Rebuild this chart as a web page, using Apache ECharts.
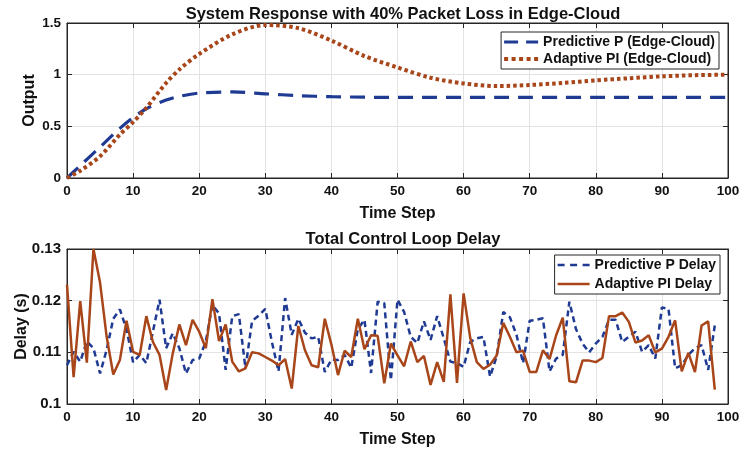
<!DOCTYPE html>
<html>
<head>
<meta charset="utf-8">
<script src="https://cdn.jsdelivr.net/npm/echarts@6/dist/echarts.min.js"></script>
<style>
  html, body { margin: 0; padding: 0; background: #fff; }
  #main { width: 744px; height: 454px; }
</style>
</head>
<body>
<div id="main"></div>
<script>
// response curves
const respSteps = [0, 2, 5, 8, 10, 12, 15, 17, 20, 25, 30, 35, 40, 45, 50, 55, 60, 65, 70, 75, 80, 85, 90, 95, 100];
const predictiveOut = [0, 0.12, 0.3, 0.48, 0.585, 0.67, 0.755, 0.79, 0.822, 0.833, 0.815, 0.797, 0.787, 0.782, 0.78, 0.78, 0.78, 0.78, 0.78, 0.78, 0.78, 0.78, 0.78, 0.78, 0.78];
const adaptiveOut = [0, 0.07, 0.21, 0.42, 0.54, 0.68, 0.92, 1.05, 1.2, 1.39, 1.48, 1.45, 1.33, 1.18, 1.07, 0.97, 0.915, 0.89, 0.9, 0.92, 0.945, 0.965, 0.984, 0.995, 1.0];

// loop delay per time step (0..98), lower plot
const predictiveDelay = [
  0.1075, 0.1101, 0.1082, 0.1121, 0.1108, 0.1059, 0.1105, 0.1165, 0.1183, 0.1145,
  0.1081, 0.1095, 0.1079, 0.114, 0.1202, 0.1108, 0.1137, 0.1108, 0.1059, 0.1085,
  0.1088, 0.1121, 0.1192, 0.1175, 0.1066, 0.117, 0.1174, 0.1069, 0.1161, 0.1171,
  0.1184, 0.112, 0.1063, 0.1205, 0.1134, 0.1165, 0.1138, 0.1127, 0.113, 0.1062,
  0.1086, 0.1085, 0.1095, 0.107, 0.1145, 0.1163, 0.106, 0.1198, 0.1195, 0.1046,
  0.1202, 0.1178, 0.113, 0.1118, 0.116, 0.1124, 0.117, 0.1127, 0.1082, 0.1079,
  0.1072, 0.112, 0.1127, 0.113, 0.1053, 0.1092, 0.1178, 0.1168, 0.1134, 0.1079,
  0.1161, 0.1163, 0.1166, 0.1063, 0.1088, 0.1095, 0.1198, 0.1145, 0.1117, 0.11,
  0.1117, 0.113, 0.1163, 0.1163, 0.112, 0.113, 0.114, 0.1101, 0.1114, 0.1088,
  0.1187, 0.1184, 0.1069, 0.1075, 0.1095, 0.1108, 0.1114, 0.1066, 0.1152
];
const adaptiveDelay = [
  0.1231, 0.1052, 0.1199, 0.108, 0.13, 0.1235, 0.113, 0.1057, 0.1085, 0.1161,
  0.1101, 0.1095, 0.117, 0.112, 0.1095, 0.1027, 0.1098, 0.1154, 0.1114, 0.1163,
  0.114, 0.1108, 0.1203, 0.1122, 0.1154, 0.1082, 0.1063, 0.1069, 0.11, 0.1098,
  0.1091, 0.1084, 0.1075, 0.1087, 0.103, 0.1151, 0.1104, 0.1075, 0.1071, 0.1165,
  0.1115, 0.1056, 0.1103, 0.1091, 0.1165, 0.1106, 0.1133, 0.1132, 0.104, 0.1117,
  0.1094, 0.1073, 0.1121, 0.1081, 0.1093, 0.1037, 0.1081, 0.1043, 0.1212, 0.1041,
  0.1214, 0.1128, 0.1081, 0.1068, 0.1076, 0.1094, 0.1157, 0.113, 0.11, 0.1103,
  0.1062, 0.1062, 0.1104, 0.1087, 0.1133, 0.1167, 0.1044, 0.1042, 0.1084, 0.1084,
  0.1081, 0.1089, 0.117, 0.117, 0.1177, 0.1159, 0.1119, 0.1123, 0.1133, 0.11,
  0.1107, 0.113, 0.1162, 0.1063, 0.1099, 0.1062, 0.1152, 0.116, 0.1028
];

const xTicks = [0, 10, 20, 30, 40, 50, 60, 70, 80, 90, 100];
const outTicks = [0, 0.5, 1, 1.5];
const delayTicks = [0.1, 0.11, 0.12, 0.13];

const blue = '#1f3a93';
const brown = '#a8461a';
const font = 'Liberation Sans, Arial, sans-serif';

// legend samples drawn as little paths so they look like the line styles
const iconDash = 'path://M0,0h14v3h-14zM22,0h12v3h-12z';
const iconDots = 'path://M0,0h4v4h-4zM7.5,0h4v4h-4zM15,0h4v4h-4zM22.5,0h4v4h-4zM30,0h4v4h-4z';
const iconShortDash = 'path://M0,0h7v2.5h-7zM12.5,0h7v2.5h-7zM25,0h7v2.5h-7z';
const iconSolid = 'path://M0,0h32v2.5h-32z';

let chart = echarts.init(document.getElementById('main'), null, {renderer: 'canvas'});

function pairs(xs, ys) {
  return ys.map((v, i) => [xs[i], v]);
}
const delaySteps = predictiveDelay.map((v, i) => i);

function xAxisFor(gridIndex, name, onTop) {
  return {
    type: 'value', gridIndex: gridIndex,
    min: xTicks[0], max: xTicks[xTicks.length - 1], interval: 10,
    position: onTop ? 'top' : 'bottom',
    name: onTop ? '' : name, nameLocation: 'middle', nameGap: 28, nameMoveOverlap: false,
    nameTextStyle: {fontFamily: font, fontWeight: 'bold', fontSize: 16, color: '#111'},
    axisLine: {show: true, onZero: false, lineStyle: {color: '#262626', width: 1}},
    axisTick: {show: true, inside: true, length: 5, lineStyle: {color: '#262626'}},
    axisLabel: {show: !onTop, fontFamily: font, fontWeight: 'bold', fontSize: 13.5, color: '#111', margin: 6},
    splitLine: {show: !onTop, lineStyle: {color: '#e3e3e3', width: 1}}
  };
}
function yAxisFor(gridIndex, name, ticks, interval, onRight, labelSize, gap) {
  return {
    type: 'value', gridIndex: gridIndex,
    min: ticks[0], max: ticks[ticks.length - 1], interval: interval,
    position: onRight ? 'right' : 'left',
    name: onRight ? '' : name, nameLocation: 'middle', nameGap: gap, nameMoveOverlap: false,
    nameTextStyle: {fontFamily: font, fontWeight: 'bold', fontSize: 16, color: '#111'},
    axisLine: {show: true, onZero: false, lineStyle: {color: '#262626', width: 1}},
    axisTick: {show: true, inside: true, length: 5, lineStyle: {color: '#262626'}},
    axisLabel: {show: !onRight, fontFamily: font, fontWeight: 'bold', fontSize: labelSize, color: '#111', margin: 6,
      formatter: v => String(Math.round(v * 1000) / 1000)},
    splitLine: {show: !onRight, lineStyle: {color: '#e3e3e3', width: 1}}
  };
}

let option = {
  backgroundColor: '#fff',
  animation: false,
  title: [
    {text: 'System Response with 40% Packet Loss in Edge-Cloud', left: 398, top: 1, textAlign: 'center',
      textStyle: {fontFamily: font, fontWeight: 'bold', fontSize: 16.5, color: '#111'}},
    {text: 'Total Control Loop Delay', left: 398, top: 226, textAlign: 'center',
      textStyle: {fontFamily: font, fontWeight: 'bold', fontSize: 16.5, color: '#111'}}
  ],
  grid: [
    {left: 67, right: 16, top: 23, height: 155, show: true, borderColor: '#262626', borderWidth: 1,
      containLabel: false, outerBoundsMode: 'none'},
    {left: 67, right: 16, top: 249, height: 155, show: true, borderColor: '#262626', borderWidth: 1,
      containLabel: false, outerBoundsMode: 'none'}
  ],
  xAxis: [
    xAxisFor(0, 'Time Step', false),
    xAxisFor(0, '', true),
    xAxisFor(1, 'Time Step', false),
    xAxisFor(1, '', true)
  ],
  yAxis: [
    yAxisFor(0, 'Output', outTicks, 0.5, false, 13.5, 29),
    yAxisFor(0, '', outTicks, 0.5, true, 13.5, 0),
    yAxisFor(1, 'Delay (s)', delayTicks, 0.01, false, 15, 37),
    yAxisFor(1, '', delayTicks, 0.01, true, 15, 0)
  ],
  legend: [
    {
      data: [{name: 'Predictive P (Edge-Cloud)', icon: iconDash}, {name: 'Adaptive PI (Edge-Cloud)', icon: iconDots}],
      orient: 'vertical', right: 25, top: 32,
      itemWidth: 34, itemHeight: 10, itemGap: 3,
      padding: [3, 4, 3, 3],
      backgroundColor: '#fff', borderColor: '#262626', borderWidth: 1, borderRadius: 0,
      itemStyle: {borderWidth: 0},
      textStyle: {fontFamily: font, fontWeight: 'bold', fontSize: 14, color: '#111'}
    },
    {
      data: [{name: 'Predictive P Delay', icon: iconShortDash}, {name: 'Adaptive PI Delay', icon: iconSolid}],
      orient: 'vertical', right: 24, top: 255,
      itemWidth: 32, itemHeight: 10, itemGap: 5,
      padding: [3, 4, 3, 3],
      backgroundColor: '#fff', borderColor: '#262626', borderWidth: 1, borderRadius: 0,
      itemStyle: {borderWidth: 0},
      textStyle: {fontFamily: font, fontWeight: 'bold', fontSize: 14, color: '#111'}
    }
  ],
  series: [
    {
      name: 'Predictive P (Edge-Cloud)', type: 'line', xAxisIndex: 0, yAxisIndex: 0,
      data: pairs(respSteps, predictiveOut), smooth: 0.3, symbol: 'none',
      lineStyle: {color: blue, width: 3.2, type: [15, 9]}, itemStyle: {color: blue}
    },
    {
      name: 'Adaptive PI (Edge-Cloud)', type: 'line', xAxisIndex: 0, yAxisIndex: 0,
      data: pairs(respSteps, adaptiveOut), smooth: 0.3, symbol: 'none',
      lineStyle: {color: brown, width: 4, type: [3.5, 3]}, itemStyle: {color: brown}
    },
    {
      name: 'Predictive P Delay', type: 'line', xAxisIndex: 2, yAxisIndex: 2,
      data: pairs(delaySteps, predictiveDelay), symbol: 'none',
      lineStyle: {color: blue, width: 2.5, type: [6, 4]}, itemStyle: {color: blue}
    },
    {
      name: 'Adaptive PI Delay', type: 'line', xAxisIndex: 2, yAxisIndex: 2,
      data: pairs(delaySteps, adaptiveDelay), symbol: 'none',
      lineStyle: {color: brown, width: 2.5}, itemStyle: {color: brown}
    }
  ]
};

option && chart.setOption(option);
</script>
</body>
</html>
